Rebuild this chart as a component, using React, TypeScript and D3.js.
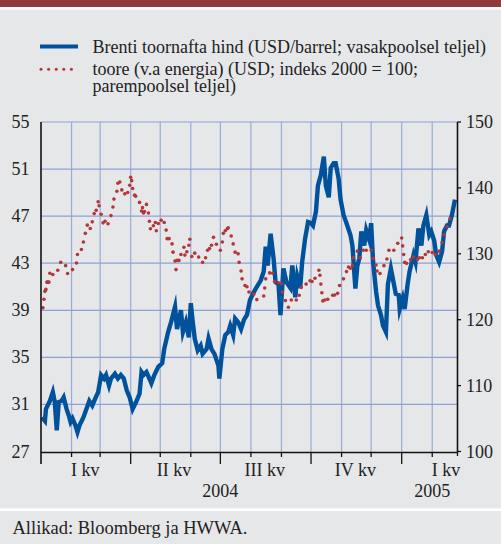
import React from "react";
import * as d3 from "d3";

const brentDates = [
  "2004-01-02","2004-01-05","2004-01-06","2004-01-10","2004-01-13","2004-01-15","2004-01-17","2004-01-19","2004-01-22","2004-01-24",
  "2004-01-27","2004-01-29","2004-01-31","2004-02-02","2004-02-05","2004-02-07","2004-02-09","2004-02-13","2004-02-16","2004-02-19",
  "2004-02-22","2004-02-25","2004-02-28","2004-03-02","2004-03-05","2004-03-07","2004-03-10","2004-03-12","2004-03-16","2004-03-19",
  "2004-03-22","2004-03-25","2004-03-28","2004-03-31","2004-04-03","2004-04-07","2004-04-10","2004-04-12","2004-04-14","2004-04-17",
  "2004-04-20","2004-04-22","2004-04-25","2004-04-29","2004-05-03","2004-05-05","2004-05-09","2004-05-12","2004-05-16","2004-05-18",
  "2004-05-22","2004-05-24","2004-05-27","2004-05-30","2004-06-01","2004-06-03","2004-06-05","2004-06-08","2004-06-11","2004-06-13",
  "2004-06-17","2004-06-19","2004-06-22","2004-06-25","2004-06-29","2004-06-30","2004-07-03","2004-07-06","2004-07-09","2004-07-11",
  "2004-07-14","2004-07-16","2004-07-19","2004-07-22","2004-07-25","2004-07-28","2004-07-31","2004-08-03","2004-08-07","2004-08-11",
  "2004-08-14","2004-08-16","2004-08-18","2004-08-21","2004-08-24","2004-08-26","2004-08-29","2004-08-31","2004-09-03","2004-09-06",
  "2004-09-10","2004-09-12","2004-09-15","2004-09-17","2004-09-20","2004-09-22","2004-09-25","2004-09-28","2004-10-01","2004-10-03",
  "2004-10-06","2004-10-08","2004-10-11","2004-10-14","2004-10-16","2004-10-19","2004-10-21","2004-10-24","2004-10-26","2004-10-29",
  "2004-10-31","2004-11-03","2004-11-06","2004-11-10","2004-11-12","2004-11-15","2004-11-17","2004-11-19","2004-11-21","2004-11-24",
  "2004-11-26","2004-11-29","2004-12-01","2004-12-03","2004-12-06","2004-12-08","2004-12-11","2004-12-13","2004-12-16","2004-12-18",
  "2004-12-21","2004-12-23","2004-12-26","2004-12-29","2004-12-30","2005-01-02","2005-01-04","2005-01-07","2005-01-09","2005-01-13",
  "2005-01-15","2005-01-18","2005-01-21","2005-01-23","2005-01-26","2005-01-29","2005-01-31","2005-02-03","2005-02-05","2005-02-08",
  "2005-02-11","2005-02-13","2005-02-16","2005-02-18","2005-02-21","2005-02-24"
];
const brentValues = [
  29.9,29.6,30.6,31.3,32.05,31.2,28.8,31.2,31.3,31.6,
  30.6,30.1,29.5,29.8,29.2,28.65,29.2,29.9,30.6,31.3,
  30.9,31.5,32.05,33.5,33.2,33.5,32.6,33.2,33.6,33.2,
  33.5,33.2,32.2,31.6,30.6,31.3,31.9,33.75,33.5,33.75,
  33.2,32.8,33.5,34.2,34.5,35.7,37.15,38.0,39.3,37.4,
  39.0,37.15,38.0,36.7,39.6,38.0,36.6,35.6,36.0,35.3,
  35.7,36.6,35.7,35.3,34.3,33.2,35.7,36.9,37.15,37.7,
  36.9,38.3,38.0,37.4,38.2,38.6,39.85,40.4,41.0,41.55,
  42.3,44.4,42.8,45.5,43.4,41.4,41.2,38.6,42.55,41.4,
  40.9,42.8,40.1,41.9,40.9,43.1,45.1,46.5,46.4,46.2,
  47.4,49.6,50.5,52.05,49.6,48.6,51.1,51.5,51.5,50.2,
  48.4,47.1,46.4,45.4,44.5,40.85,42.8,43.4,45.7,44.5,
  45.8,45.0,46.4,43.1,40.6,39.4,38.6,37.7,37.15,41.2,
  42.55,41.7,40.4,40.3,39.1,40.0,39.1,41.2,42.3,43.7,
  43.1,45.95,44.5,46.2,47.1,45.4,45.7,44.9,43.7,43.1,
  44.0,45.7,46.2,46.2,47.1,48.4
];

const commodityDates = [
  "2004-01-03","2004-01-04","2004-01-05","2004-01-06","2004-01-07","2004-01-08","2004-01-09","2004-01-10","2004-01-13","2004-01-18",
  "2004-01-21","2004-01-26","2004-01-28","2004-02-02","2004-02-06","2004-02-07","2004-02-11","2004-02-13","2004-02-15","2004-02-17",
  "2004-02-20","2004-02-22","2004-02-24","2004-02-26","2004-02-28","2004-02-29","2004-03-02","2004-03-04","2004-03-06","2004-03-09",
  "2004-03-12","2004-03-14","2004-03-15","2004-03-18","2004-03-19","2004-03-21","2004-03-23","2004-03-26","2004-03-29","2004-03-31",
  "2004-04-01","2004-04-02","2004-04-03","2004-04-05","2004-04-06","2004-04-10","2004-04-12","2004-04-13","2004-04-14","2004-04-15",
  "2004-04-17","2004-04-19","2004-04-20","2004-04-21","2004-04-24","2004-04-26","2004-04-27","2004-04-29","2004-05-02","2004-05-05",
  "2004-05-07","2004-05-08","2004-05-10","2004-05-13","2004-05-14","2004-05-16","2004-05-17","2004-05-18","2004-05-20","2004-05-22",
  "2004-05-25","2004-05-26","2004-05-28","2004-05-30","2004-05-31","2004-06-02","2004-06-05","2004-06-09","2004-06-13","2004-06-16",
  "2004-06-18","2004-06-20","2004-06-22","2004-06-24","2004-06-27","2004-07-01","2004-07-03","2004-07-04","2004-07-06","2004-07-08",
  "2004-07-09","2004-07-12","2004-07-14","2004-07-16","2004-07-19","2004-07-20","2004-07-22","2004-07-23","2004-07-26","2004-07-28",
  "2004-07-30","2004-08-04","2004-08-07","2004-08-14","2004-08-15","2004-08-16","2004-08-20","2004-08-23","2004-08-25","2004-08-29",
  "2004-09-01","2004-09-02","2004-09-05","2004-09-08","2004-09-11","2004-09-16","2004-09-19","2004-09-21","2004-09-26","2004-09-30",
  "2004-10-02","2004-10-05","2004-10-09","2004-10-10","2004-10-11","2004-10-12","2004-10-13","2004-10-15","2004-10-18","2004-10-23",
  "2004-10-25","2004-10-28","2004-10-30","2004-11-03","2004-11-06","2004-11-08","2004-11-10","2004-11-12","2004-11-13","2004-11-17",
  "2004-11-20","2004-11-23","2004-11-26","2004-12-01","2004-12-03","2004-12-06","2004-12-07","2004-12-10","2004-12-14","2004-12-17",
  "2004-12-19","2004-12-24","2004-12-28","2005-01-01","2005-01-02","2005-01-03","2005-01-04","2005-01-06","2005-01-10","2005-01-13",
  "2005-01-17","2005-01-19","2005-01-22","2005-01-25","2005-01-28","2005-02-01","2005-02-04","2005-02-08","2005-02-11","2005-02-13",
  "2005-02-16","2005-02-19"
];
const commodityValues = [
  121.8,123.1,124.3,124.6,125.7,125.7,125.7,127.05,126.85,127.5,
  128.7,128.2,127.0,127.6,128.6,129.9,130.65,131.8,133.1,134.35,
  133.85,134.85,136.1,136.6,137.9,137.3,136.0,134.7,134.95,134.55,
  135.8,137.1,138.3,139.5,140.7,140.9,139.7,139.1,139.3,140.4,
  141.6,141.1,139.9,138.9,138.75,137.8,136.5,137.0,136.2,136.4,
  137.5,136.2,134.95,133.8,134.25,134.75,133.5,134.6,135.1,134.75,
  133.6,132.3,132.3,131.5,130.25,128.9,127.6,129.0,129.0,129.9,
  131.0,129.8,130.3,131.3,132.2,129.6,130.1,129.5,128.7,129.4,
  130.55,130.8,131.3,132.5,131.45,130.55,131.8,133.1,133.5,133.8,
  133.95,132.7,131.5,130.25,130.0,128.7,127.4,126.2,125.2,125.0,
  124.2,123.9,123.05,123.6,124.8,126.2,127.1,127.05,125.8,125.6,
  125.5,124.2,122.9,121.9,123.0,123.0,123.7,124.9,125.4,125.9,
  125.8,126.3,127.5,126.75,125.4,124.1,122.85,123.0,123.1,123.7,
  123.75,124.0,125.2,126.2,127.3,128.0,127.8,128.2,129.4,130.4,
  129.4,130.55,130.55,130.55,129.3,128.3,127.4,127.0,128.2,129.2,
  130.55,130.55,131.6,132.4,131.2,129.9,128.7,128.55,129.1,129.5,
  129.15,129.4,129.4,129.9,130.3,130.2,129.9,130.4,131.7,132.9,
  134.1,135.3
];

const leftTicks = [27, 31, 35, 39, 43, 47, 51, 55];
const rightTicks = [100, 110, 120, 130, 140, 150];
const quarterLabels = ["I kv", "II kv", "III kv", "IV kv", "I kv"];
const quarterLabelDates = ["2004-02-15", "2004-05-15", "2004-08-15", "2004-11-15", "2005-02-15"];
const yearLabels = ["2004", "2005"];
const yearLabelDates = ["2004-07-01", "2005-02-01"];
const legendLabels = [
  "Brenti toornafta hind (USD/barrel; vasakpoolsel teljel)",
  "toore (v.a energia) (USD; indeks 2000 = 100;",
  "parempoolsel teljel)",
];
const sourceText = "Allikad: Bloomberg ja HWWA.";

const parse = d3.timeParse("%Y-%m-%d");

const W = 501;
const H = 544;
const BG = "#E6E7E9";
const GRID = "#8FA1D6";
const BLUE = "#00529C";
const RED = "#B3363A";
const TXT = "#222222";
const FONT = "'Liberation Serif', 'Times New Roman', serif";

export default function App() {
  const left = 41;
  const right = 457.5;
  const top = 122;
  const bottom = 451.5;
  const axisY = 452.5;

  const x = d3
    .scaleTime()
    .domain([parse("2004-01-01")!, parse("2005-03-01")!])
    .range([left, left + 425 * 0.9855]);
  const yL = d3.scaleLinear().domain([27, 55]).range([bottom, top]);
  const yR = d3.scaleLinear().domain([100, 150]).range([bottom, top]);

  const brent = brentDates.map((d, i) => ({ d: parse(d)!, v: brentValues[i] }));
  const comm = commodityDates.map((d, i) => ({ d: parse(d)!, v: commodityValues[i] }));

  const line = d3
    .line<{ d: Date; v: number }>()
    .x((p) => x(p.d))
    .y((p) => yL(p.v));

  const months = d3.timeMonth.range(parse("2004-02-01")!, parse("2005-02-15")!);
  const quarterStarts = new Set([0, 3, 6, 9]);

  const fs = 18;

  return (
    <div style={{ position: "absolute", left: 0, top: 0 }}>
      <svg width={W} height={H} style={{ display: "block", fontFamily: FONT }}>
        <rect x={0} y={0} width={W} height={H} fill={BG} />
        <rect x={0} y={0} width={W} height={7} fill="#8E3B40" />
        <rect x={0} y={7} width={W} height={2.5} fill="#FFFFFF" />
        <rect x={0} y={508.3} width={W} height={2.7} fill="#FFFFFF" />

        {/* legend */}
        <line x1={40} x2={78} y1={46.5} y2={46.5} stroke={BLUE} strokeWidth={4} />
        {[0, 1, 2, 3, 4].map((i) => (
          <circle key={i} cx={41 + i * 7.6} cy={69.3} r={1.5} fill={RED} />
        ))}
        <text x={92.5} y={52.5} fontSize={fs} fill={TXT}>{legendLabels[0]}</text>
        <text x={92.5} y={74.5} fontSize={fs} fill={TXT}>{legendLabels[1]}</text>
        <text x={92.5} y={91.5} fontSize={fs} fill={TXT}>{legendLabels[2]}</text>

        {/* grid */}
        {leftTicks.filter((t) => t !== 27).map((t) => (
          <line key={"h" + t} x1={left} x2={right} y1={yL(t)} y2={yL(t)} stroke={GRID} strokeWidth={1.2} />
        ))}
        {months.map((m, i) => (
          <line key={"v" + i} x1={x(m)} x2={x(m)} y1={top} y2={axisY} stroke={GRID} strokeWidth={1.2} opacity={0.85} />
        ))}

        {/* series */}
        <path d={line(brent) || ""} fill="none" stroke={BLUE} strokeWidth={4.4} strokeLinejoin="miter" strokeMiterlimit={6} />
        {comm.map((p, i) => (
          <circle key={"c" + i} cx={x(p.d)} cy={yR(p.v)} r={1.8} fill={RED} />
        ))}

        {/* axes */}
        <line x1={left} x2={left} y1={top} y2={464} stroke="#111" strokeWidth={1.6} />
        <line x1={right} x2={right} y1={top} y2={axisY} stroke="#111" strokeWidth={1.6} />
        <line x1={left} x2={right} y1={axisY} y2={axisY} stroke="#111" strokeWidth={1.4} />
        {months.map((m, i) => {
          const isQ = quarterStarts.has(m.getMonth());
          return (
            <line key={"t" + i} x1={x(m)} x2={x(m)} y1={axisY} y2={isQ ? 464 : 457} stroke="#111" strokeWidth={1.3} />
          );
        })}
        <line x1={right} x2={right} y1={axisY} y2={456} stroke="#111" strokeWidth={1.3} />
        {rightTicks.map((t) => (
          <line key={"rt" + t} x1={right} x2={right + 3.5} y1={yR(t)} y2={yR(t)} stroke="#111" strokeWidth={1.3} />
        ))}

        {/* tick labels */}
        {leftTicks.map((t) => (
          <text key={"lt" + t} x={29.5} y={yL(t) + 6} fontSize={fs} fill={TXT} textAnchor="end">{t}</text>
        ))}
        {rightTicks.map((t) => (
          <text key={"rl" + t} x={466} y={yR(t) + 6} fontSize={fs} fill={TXT}>{t}</text>
        ))}
        {quarterLabels.map((q, i) => (
          <text key={"q" + i} x={x(parse(quarterLabelDates[i])!)} y={475.5} fontSize={fs} fill={TXT} textAnchor="middle">{q}</text>
        ))}
        {yearLabels.map((yl, i) => (
          <text key={"y" + i} x={x(parse(yearLabelDates[i])!)} y={496.5} fontSize={fs} fill={TXT} textAnchor="middle">{yl}</text>
        ))}

        <text x={12.5} y={534} fontSize={18.5} fill={TXT}>{sourceText}</text>
      </svg>
    </div>
  );
}
